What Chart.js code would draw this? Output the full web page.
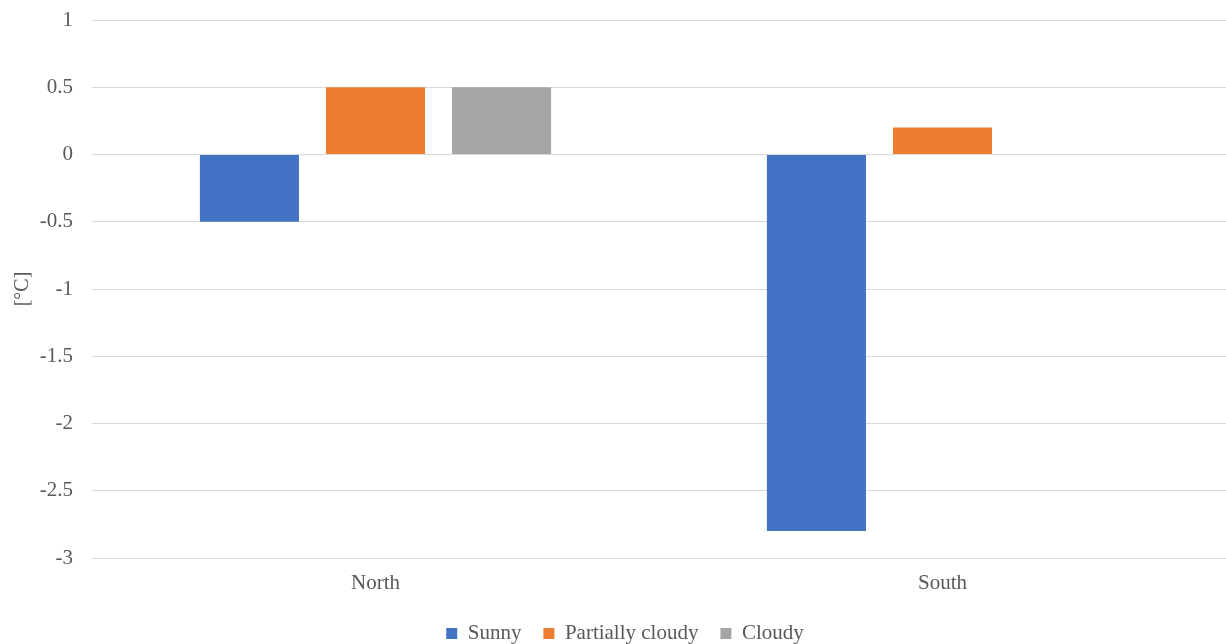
<!DOCTYPE html>
<html>
<head>
<meta charset="utf-8">
<script src="https://cdn.jsdelivr.net/npm/chart.js@4.4.1/dist/chart.umd.min.js"></script>
<style>
  html, body { margin: 0; padding: 0; background: #ffffff; }
  #wrap { width: 1226px; height: 644px; position: relative; }
</style>
</head>
<body>
<div id="wrap"><canvas id="chart" width="1226" height="644"></canvas></div>
<script>
// Temperature difference by site and sky condition
const categories = ['North', 'South'];
const sunny = [-0.5, -2.8];
const partiallyCloudy = [0.5, 0.2];
const cloudy = [0.5, 0];
const seriesNames = ['Sunny', 'Partially cloudy', 'Cloudy'];
const yMin = -3;
const yMax = 1;
const yStep = 0.5;

const textColor = '#595959';
const serif = "'Liberation Serif', 'Times New Roman', serif";

// Nudges the bottom legend sideways after layout
const legendShift = {
  id: 'legendShift',
  afterLayout(chart, args, opts) {
    const lg = chart.legend;
    if (lg) { lg.left += opts.dx; lg.right += opts.dx; }
  }
};

new Chart(document.getElementById('chart'), {
  type: 'bar',
  data: {
    labels: categories,
    datasets: [
      { label: seriesNames[0], data: sunny, backgroundColor: '#4472C4' },
      { label: seriesNames[1], data: partiallyCloudy, backgroundColor: '#ED7D31' },
      { label: seriesNames[2], data: cloudy, backgroundColor: '#A5A5A5' }
    ]
  },
  plugins: [legendShift],
  options: {
    responsive: false,
    animation: false,
    devicePixelRatio: 1,
    categoryPercentage: 0.667,
    barPercentage: 0.786,
    layout: { padding: { top: 20, right: 0, bottom: -10, left: 0 } },
    plugins: {
      tooltip: { enabled: false },
      legendShift: { dx: 12 },
      legend: {
        position: 'bottom',
        labels: {
          color: textColor,
          font: { family: serif, size: 21 },
          boxWidth: 11,
          boxHeight: 11,
          padding: 22
        }
      }
    },
    scales: {
      x: {
        afterFit: (scale) => { scale.height = 43; },
        grid: { display: false, drawTicks: false },
        border: { display: false },
        ticks: { color: textColor, font: { family: serif, size: 21 }, padding: 13 }
      },
      y: {
        min: yMin,
        max: yMax,
        afterFit: (scale) => {
          scale.width = 92;
          scale.paddingTop = 0;
          scale.paddingBottom = 0;
        },
        grid: { color: '#D9D9D9', lineWidth: 1, drawTicks: false },
        border: { display: false },
        ticks: {
          stepSize: yStep,
          color: textColor,
          font: { family: serif, size: 21 },
          padding: 19,
          callback: (v) => String(Number(v.toFixed(1)))
        },
        title: {
          display: true,
          text: '[°C]',
          color: textColor,
          font: { family: serif, size: 20 },
          padding: { top: 11, bottom: 0 }
        }
      }
    }
  }
});
</script>
</body>
</html>
